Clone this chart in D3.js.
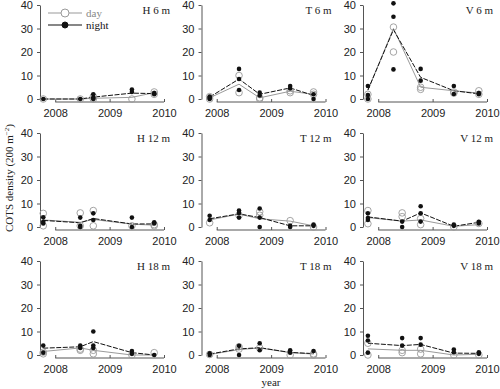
<!DOCTYPE html>
<html>
<head>
<meta charset="utf-8">
<script src="https://cdn.jsdelivr.net/npm/d3@7"></script>
<style>
  body { margin: 0; background: #fff; }
  svg { display: block; font-family: "Liberation Serif", "DejaVu Serif", serif; }
  .axis text { font-size: 11px; fill: #222; }
  .axis line, .axis path { stroke: #555; }
</style>
</head>
<body>
<svg id="chart" width="500" height="389"></svg>
<script>
// sampling dates (decimal year) per site
const datesH = [2007.78, 2008.46, 2008.70, 2009.41, 2009.82];
const datesT = [2007.87, 2008.41, 2008.79, 2009.35, 2009.78];
const datesV = [2007.81, 2008.44, 2008.78, 2009.39, 2009.85];
const datesV6 = [2007.81, 2008.28, 2008.78, 2009.39, 2009.85];

const yTicks = [0, 10, 20, 30, 40];
const xTicks = [2008, 2009, 2010];

// replicate counts per date, and the means drawn as lines
const h6Day = [[0], [0], [1, 0], [0], [3, 2]];
const h6Night = [[0], [0], [2, 0.5, 0], [4, 3], [2.5, 2]];
const h6DayMean = [0, 0, 0.3, 0.7, 2.7];
const h6NightMean = [0, 0, 0.8, 2.5, 2.3];

const t6Day = [[1, 0], [10, 2.7], [0, 0.5], [2.7, 3.5], [3, 2]];
const t6Night = [[0.5, 0, 1], [12.8, 8.5, 3.8], [2.7, 1.5], [5.5, 4.5], [0, 2]];
const t6DayMean = [0.5, 6.3, 0.5, 3.3, 2];
const t6NightMean = [0.8, 8.5, 2, 4.7, 1.5];

const v6Day = [[0, 2], [30.6, 20], [4.1, 5], [3, 2.5], [3.5, 2]];
const v6Night = [[5.5, 1.7, 0], [40.7, 35, 12.6], [12.8, 7.8], [5.5, 2.1], [2, 2.5]];
const v6DayMean = [3.8, 30, 5, 3.5, 2.5];
const v6NightMean = [3.8, 29.5, 9.2, 3.5, 2.2];

const h12Day = [[5.8, 0.5], [6, 0.5], [7, 0.5], [0.5], [1, 0.5]];
const h12Night = [[4.1, 2.2, 1.5], [4, 0.5, 0], [5.8, 3], [4, 0], [2, 1.5]];
const h12DayMean = [3, 2, 3.2, 1.2, 0.8];
const h12NightMean = [2.8, 1.8, 3.6, 1.3, 1.3];

const t12Day = [[1.8], [5], [6.5, 5], [2.7], [0]];
const t12Night = [[4.8, 3], [7, 6, 4], [7.9, 4, 0], [0, 0.5], [0.5, 1]];
const t12DayMean = [3, 5.5, 3.5, 2.5, 0.5];
const t12NightMean = [3.5, 5.6, 4, 0.5, 0.5];

const v12Day = [[7, 1.4], [4.4, 6], [3.6, 1], [0], [1.5]];
const v12Night = [[5.8, 3, 3.8], [2.3, 0], [8.8, 5.8, 2.3], [0.5, 1], [2.2, 1.5]];
const v12DayMean = [4, 2.5, 3, 0.3, 1];
const v12NightMean = [4.3, 2.5, 6, 0.3, 2];

const h18Day = [[0.5, 1.2], [2.5, 2], [2, 0.5], [0], [1]];
const h18Night = [[4, 1], [4, 3], [10, 4, 3], [1.7, 0.5], [0]];
const h18DayMean = [1.5, 3, 2, 0, 0];
const h18NightMean = [2.9, 3.5, 5.7, 1, 0];

const t18Day = [[0.2], [3.5, 2.5], [3], [0], [0, 0.5]];
const t18Night = [[0.7, 0], [3.9, 0], [5, 2], [2, 1], [1.7]];
const t18DayMean = [0.2, 2.3, 3, 1, 0.4];
const t18NightMean = [0.4, 2.6, 3.1, 1.1, 0.6];

const v18Day = [[0, 5], [2, 1], [0.5, 2.5], [0], [0]];
const v18Night = [[8.2, 6.2, 1], [7.2, 4], [7.2, 4.4], [2.3, 1.2], [1.2, 0.5]];
const v18DayMean = [2.6, 2, 2, 0, 0.3];
const v18NightMean = [5, 4, 4.5, 0.8, 0.7];

const panels = [
  { title: "H 6 m", dates: datesH, day: h6Day, night: h6Night, dayMean: h6DayMean, nightMean: h6NightMean },
  { title: "T 6 m", dates: datesT, day: t6Day, night: t6Night, dayMean: t6DayMean, nightMean: t6NightMean },
  { title: "V 6 m", dates: datesV6, day: v6Day, night: v6Night, dayMean: v6DayMean, nightMean: v6NightMean },
  { title: "H 12 m", dates: datesH, day: h12Day, night: h12Night, dayMean: h12DayMean, nightMean: h12NightMean },
  { title: "T 12 m", dates: datesT, day: t12Day, night: t12Night, dayMean: t12DayMean, nightMean: t12NightMean },
  { title: "V 12 m", dates: datesV, day: v12Day, night: v12Night, dayMean: v12DayMean, nightMean: v12NightMean },
  { title: "H 18 m", dates: datesH, day: h18Day, night: h18Night, dayMean: h18DayMean, nightMean: h18NightMean },
  { title: "T 18 m", dates: datesT, day: t18Day, night: t18Night, dayMean: t18DayMean, nightMean: t18NightMean },
  { title: "V 18 m", dates: datesV, day: v18Day, night: v18Night, dayMean: v18DayMean, nightMean: v18NightMean }
];

const dayColor = "#9a9a9a";
const nightColor = "#111";

const colX = [40, 201.5, 363];
const rowY = [5, 133, 261];
const pw = 124, ph = 94;

const svg = d3.select("#chart");

const x = d3.scaleLinear().domain([2007.72, 2010]).range([0, pw]);
const y = d3.scaleLinear().domain([0, 40]).range([ph, 0]);

const line = d3.line()
  .x(d => x(d.date))
  .y(d => y(d.value));

panels.forEach((p, i) => {
  let g = svg.append("g")
    .attr("transform", `translate(${colX[i % 3]},${rowY[Math.floor(i / 3)]})`);

  g.append("g").attr("class", "axis")
    .call(d3.axisLeft(y).tickValues(yTicks).tickSize(3).tickSizeOuter(0).tickPadding(4));

  let xa = g.append("g").attr("class", "axis")
    .attr("transform", `translate(0,${ph + 3})`)
    .call(d3.axisBottom(x).tickValues(xTicks).tickFormat(d3.format("d"))
      .tickSize(-3).tickSizeOuter(0).tickPadding(7));
  xa.select(".domain").remove();
  xa.append("line")
    .attr("x1", x(2008)).attr("x2", x(2010))
    .attr("stroke", "#555");

  g.append("text")
    .attr("x", 130).attr("y", 9)
    .attr("text-anchor", "end")
    .attr("font-size", 11)
    .attr("fill", "#222")
    .text(p.title);

  let dayLine = p.dayMean.map((v, j) => ({ date: p.dates[j], value: v }));
  let nightLine = p.nightMean.map((v, j) => ({ date: p.dates[j], value: v }));

  g.append("path").attr("d", line(dayLine))
    .attr("fill", "none").attr("stroke", dayColor).attr("stroke-width", 1);
  g.append("path").attr("d", line(nightLine))
    .attr("fill", "none").attr("stroke", nightColor).attr("stroke-width", 1)
    .attr("stroke-dasharray", "5,1.5");

  let dayPts = p.day.flatMap((vals, j) => vals.map(v => ({ date: p.dates[j], value: v })));
  let nightPts = p.night.flatMap((vals, j) => vals.map(v => ({ date: p.dates[j], value: v })));

  g.selectAll(".day").data(dayPts).join("circle")
    .attr("class", "day")
    .attr("cx", d => x(d.date)).attr("cy", d => y(d.value))
    .attr("r", 3.3)
    .attr("fill", "none").attr("stroke", dayColor).attr("stroke-width", 0.9);

  g.selectAll(".night").data(nightPts).join("circle")
    .attr("class", "night")
    .attr("cx", d => x(d.date)).attr("cy", d => y(d.value))
    .attr("r", 2.3)
    .attr("fill", nightColor);

  // legend in first panel
  if (i === 0) {
    let lg = g.append("g");
    [["day", dayColor, false, 8], ["night", nightColor, true, 20]].forEach(([label, color, filled, ly]) => {
      lg.append("line").attr("x1", 8).attr("x2", 42).attr("y1", ly).attr("y2", ly)
        .attr("stroke", color).attr("stroke-width", 1.2);
      lg.append("circle").attr("cx", 25).attr("cy", ly).attr("r", filled ? 3 : 4)
        .attr("fill", filled ? color : "#fff").attr("stroke", color);
      lg.append("text").attr("x", 46).attr("y", ly + 4)
        .attr("font-size", 11).attr("fill", filled ? "#111" : "#888")
        .text(label);
    });
  }
});

// axis titles
svg.append("text")
  .attr("transform", "translate(13,178) rotate(-90)")
  .attr("text-anchor", "middle")
  .attr("font-size", 11)
  .attr("fill", "#222")
  .call(t => {
    t.append("tspan").text("COTS density (200 m");
    t.append("tspan").attr("font-size", 7).attr("dy", -4).text("\u22122");
    t.append("tspan").attr("dy", 4).text(")");
  });

svg.append("text")
  .attr("x", 271).attr("y", 386)
  .attr("text-anchor", "middle")
  .attr("font-size", 11)
  .attr("fill", "#222")
  .text("year");
</script>
</body>
</html>
